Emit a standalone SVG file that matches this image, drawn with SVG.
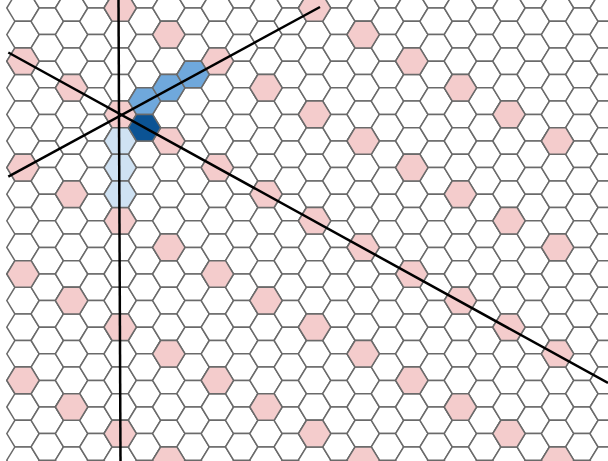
<svg xmlns="http://www.w3.org/2000/svg" xmlns:xlink="http://www.w3.org/1999/xlink" width="608" height="461" viewBox="0 0 608 461">
<style>
.grid{fill:#fff;stroke:#6a6a6a;stroke-width:1.5}
.cell{stroke:#6a6a6a;stroke-width:1.5}
.pk{fill:#f4cccc}
.lb{fill:#cfe2f3}
.mb{fill:#6fa8dc}
.db{fill:#0b5394}
.ln{stroke:#000;stroke-width:2.5;fill:none}
</style>
<defs>
<path id="hx" d="M-16.2 0L-8.1-13.3H8.1L16.2 0L8.1 13.3H-8.1Z"/>
<g id="col">
<use href="#hx" y="8"/><use href="#hx" y="34.6"/><use href="#hx" y="61.2"/><use href="#hx" y="87.8"/><use href="#hx" y="114.4"/><use href="#hx" y="141"/><use href="#hx" y="167.6"/><use href="#hx" y="194.2"/><use href="#hx" y="220.8"/><use href="#hx" y="247.4"/><use href="#hx" y="274"/><use href="#hx" y="300.6"/><use href="#hx" y="327.2"/><use href="#hx" y="353.8"/><use href="#hx" y="380.4"/><use href="#hx" y="407"/><use href="#hx" y="433.6"/><use href="#hx" y="460.2"/>
</g>
</defs>
<rect width="608" height="461" fill="#fff"/>
<g id="hex-grid" class="grid">
<use href="#col" x="23"/><use href="#col" x="47.3" y="-13.3"/><use href="#col" x="71.6"/><use href="#col" x="95.9" y="-13.3"/><use href="#col" x="120.2"/><use href="#col" x="144.5" y="-13.3"/><use href="#col" x="168.8"/><use href="#col" x="193.1" y="-13.3"/><use href="#col" x="217.4"/><use href="#col" x="241.7" y="-13.3"/><use href="#col" x="266"/><use href="#col" x="290.3" y="-13.3"/><use href="#col" x="314.6"/><use href="#col" x="338.9" y="-13.3"/><use href="#col" x="363.2"/><use href="#col" x="387.5" y="-13.3"/><use href="#col" x="411.8"/><use href="#col" x="436.1" y="-13.3"/><use href="#col" x="460.4"/><use href="#col" x="484.7" y="-13.3"/><use href="#col" x="509"/><use href="#col" x="533.3" y="-13.3"/><use href="#col" x="557.6"/><use href="#col" x="581.9" y="-13.3"/><use href="#col" x="606.2"/>
</g>
<g id="pink-cells" class="cell pk">
<use href="#hx" x="23" y="61.2"/><use href="#hx" x="23" y="167.6"/><use href="#hx" x="23" y="274"/><use href="#hx" x="23" y="380.4"/>
<use href="#hx" x="71.6" y="87.8"/><use href="#hx" x="71.6" y="194.2"/><use href="#hx" x="71.6" y="300.6"/><use href="#hx" x="71.6" y="407"/>
<use href="#hx" x="120.2" y="8"/><use href="#hx" x="120.2" y="114.4"/><use href="#hx" x="120.2" y="220.8"/><use href="#hx" x="120.2" y="327.2"/><use href="#hx" x="120.2" y="433.6"/>
<use href="#hx" x="168.8" y="34.6"/><use href="#hx" x="168.8" y="141"/><use href="#hx" x="168.8" y="247.4"/><use href="#hx" x="168.8" y="353.8"/><use href="#hx" x="168.8" y="460.2"/>
<use href="#hx" x="217.4" y="61.2"/><use href="#hx" x="217.4" y="167.6"/><use href="#hx" x="217.4" y="274"/><use href="#hx" x="217.4" y="380.4"/>
<use href="#hx" x="266" y="87.8"/><use href="#hx" x="266" y="194.2"/><use href="#hx" x="266" y="300.6"/><use href="#hx" x="266" y="407"/>
<use href="#hx" x="314.6" y="8"/><use href="#hx" x="314.6" y="114.4"/><use href="#hx" x="314.6" y="220.8"/><use href="#hx" x="314.6" y="327.2"/><use href="#hx" x="314.6" y="433.6"/>
<use href="#hx" x="363.2" y="34.6"/><use href="#hx" x="363.2" y="141"/><use href="#hx" x="363.2" y="247.4"/><use href="#hx" x="363.2" y="353.8"/><use href="#hx" x="363.2" y="460.2"/>
<use href="#hx" x="411.8" y="61.2"/><use href="#hx" x="411.8" y="167.6"/><use href="#hx" x="411.8" y="274"/><use href="#hx" x="411.8" y="380.4"/>
<use href="#hx" x="460.4" y="87.8"/><use href="#hx" x="460.4" y="194.2"/><use href="#hx" x="460.4" y="300.6"/><use href="#hx" x="460.4" y="407"/>
<use href="#hx" x="509" y="114.4"/><use href="#hx" x="509" y="220.8"/><use href="#hx" x="509" y="327.2"/><use href="#hx" x="509" y="433.6"/>
<use href="#hx" x="557.6" y="141"/><use href="#hx" x="557.6" y="247.4"/><use href="#hx" x="557.6" y="353.8"/><use href="#hx" x="557.6" y="460.2"/>
</g>
<g id="light-blue-cells" class="cell lb">
<use href="#hx" x="120.2" y="141"/><use href="#hx" x="120.2" y="167.6"/><use href="#hx" x="120.2" y="194.2"/>
</g>
<g id="mid-blue-cells" class="cell mb">
<use href="#hx" x="144.5" y="101.1"/><use href="#hx" x="168.8" y="87.8"/><use href="#hx" x="193.1" y="74.5"/>
</g>
<g id="dark-blue-cell" class="cell db">
<use href="#hx" x="144.5" y="127.7"/>
</g>
<g id="connectors" class="ln">
<line x1="118.5" y1="0" x2="120.5" y2="461"/>
<line x1="8.3" y1="52.5" x2="608" y2="383"/>
<line x1="8.3" y1="176.7" x2="320" y2="7"/>
</g>
</svg>
